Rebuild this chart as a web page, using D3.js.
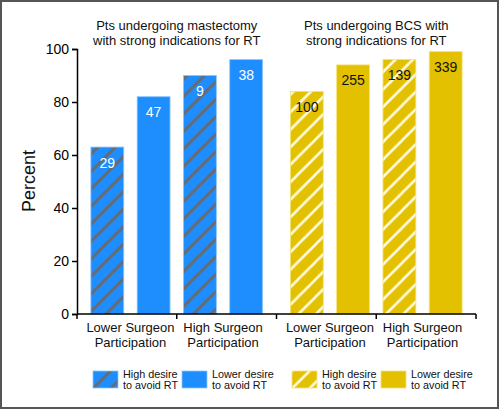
<!DOCTYPE html>
<html>
<head>
<meta charset="utf-8">
<script src="https://cdn.jsdelivr.net/npm/d3@7"></script>
<style>
  html, body { margin: 0; padding: 0; background: #fff; }
  svg { display: block; font-family: "Liberation Sans", Arial, sans-serif; }
</style>
</head>
<body>
<svg id="chart" width="500" height="410"></svg>
<script>
// ---------- data ----------
const panels = ["mastectomy", "BCS"];
const panelTitles = [
  ["Pts undergoing mastectomy", "with strong indications for RT"],
  ["Pts undergoing BCS with", "strong indications for RT"]
];
const categories = ["Lower Surgeon Participation", "High Surgeon Participation"];
const seriesNames = ["High desire to avoid RT", "Lower desire to avoid RT"];
// percent values [Lower Surgeon, High Surgeon]
const mastHighDesire = [63, 90];
const mastLowerDesire = [82, 96];
const bcsHighDesire = [84, 96];
const bcsLowerDesire = [94, 99];
// patient counts shown in bars
const mastHighDesireN = [29, 9];
const mastLowerDesireN = [47, 38];
const bcsHighDesireN = [100, 139];
const bcsLowerDesireN = [255, 339];
const yTicks = [0, 20, 40, 60, 80, 100];

// ---------- build rows ----------
const panelData = [
  { high: mastHighDesire, low: mastLowerDesire, highN: mastHighDesireN, lowN: mastLowerDesireN },
  { high: bcsHighDesire, low: bcsLowerDesire, highN: bcsHighDesireN, lowN: bcsLowerDesireN }
];
const rows = [];
panels.forEach((p, pi) => {
  categories.forEach((c, ci) => {
    rows.push({ panel: p, pi, cat: ci, series: 0, idx: ci * 2, value: panelData[pi].high[ci], n: panelData[pi].highN[ci] });
    rows.push({ panel: p, pi, cat: ci, series: 1, idx: ci * 2 + 1, value: panelData[pi].low[ci], n: panelData[pi].lowN[ci] });
  });
});

const colors = [
  { fill: "#1e8eff", hatch: "#676b70", text: "#ffffff" },
  { fill: "#e3c000", hatch: "#fffbe0", text: "#111111" }
];

// ---------- svg ----------
const svg = d3.select("#chart");
const defs = svg.append("defs");
function makePattern(id, bg, line, sw) {
  const s = 17.5;
  const pat = defs.append("pattern").attr("id", id)
    .attr("patternUnits", "userSpaceOnUse").attr("width", s).attr("height", s);
  pat.append("rect").attr("width", s).attr("height", s).attr("fill", bg);
  pat.append("path")
    .attr("d", `M-4,${s + 4} L${s + 4},-4 M-4,4 L4,-4 M${s - 4},${s + 4} L${s + 4},${s - 4}`)
    .attr("stroke", line).attr("stroke-width", sw);
}
makePattern("hatch0", colors[0].fill, colors[0].hatch, 3);
makePattern("hatch1", colors[1].fill, colors[1].hatch, 2.6);

// border
svg.append("rect").attr("x", 1).attr("y", 1).attr("width", 497).attr("height", 407)
  .attr("fill", "none").attr("stroke", "#555").attr("stroke-width", 2);

const y = d3.scaleLinear().domain([0, 100]).range([314, 49]);
const xPanel = d3.scaleBand().domain(panels).range([77, 476]).padding(0);
const xBar = d3.scaleBand().domain([0, 1, 2, 3]).range([0, xPanel.bandwidth()])
  .paddingInner(0.29).paddingOuter(0.3);
const bw = xBar.bandwidth();
const barX = d => xPanel(d.panel) + xBar(d.idx);

// bars
svg.append("g").selectAll("rect").data(rows).join("rect")
  .attr("x", d => barX(d))
  .attr("y", d => y(d.value))
  .attr("width", bw)
  .attr("height", d => y(0) - y(d.value))
  .attr("fill", d => d.series === 0 ? `url(#hatch${d.pi})` : colors[d.pi].fill)
  .attr("stroke", d => d.pi === 0 ? "#8cc6ff" : "#f3e27a")
  .attr("stroke-width", 0.8);

// value labels
svg.append("g").selectAll("text").data(rows).join("text")
  .attr("x", d => barX(d) + bw / 2)
  .attr("y", d => y(d.value) + 20.5)
  .attr("text-anchor", "middle")
  .attr("font-size", 14)
  .attr("fill", d => colors[d.pi].text)
  .text(d => d.n);

// y axis
const yAxis = svg.append("g").attr("transform", "translate(77,0)")
  .call(d3.axisLeft(y).tickValues(yTicks).tickSize(5).tickPadding(3));
yAxis.select(".domain").attr("stroke", "#000").attr("stroke-width", 1.5);
yAxis.selectAll(".tick line").attr("stroke", "#000").attr("stroke-width", 1.5);
yAxis.selectAll(".tick text").attr("font-size", 14).attr("fill", "#000")
  .attr("font-family", "Liberation Sans, Arial, sans-serif");

// x axis: group boundaries
const groupScale = d3.scaleBand().domain(d3.range(4)).range([77, 476]);
const xBoundaries = d3.range(5).map(i => 77 + i * groupScale.step());
svg.append("line").attr("x1", 77).attr("x2", 476).attr("y1", y(0)).attr("y2", y(0))
  .attr("stroke", "#000").attr("stroke-width", 1.5);
svg.append("g").selectAll("line").data(xBoundaries).join("line")
  .attr("x1", d => d).attr("x2", d => d).attr("y1", y(0)).attr("y2", y(0) + 5)
  .attr("stroke", "#000").attr("stroke-width", 1.5);

// category labels
const catLabels = [];
panels.forEach(p => categories.forEach((c, ci) => {
  const cx = xPanel(p) + (xBar(ci * 2) + xBar(ci * 2 + 1) + bw) / 2;
  catLabels.push({ cx, words: c.split(" ") });
}));
const cl = svg.append("g").selectAll("text").data(catLabels).join("text")
  .attr("x", d => d.cx).attr("y", 332).attr("text-anchor", "middle")
  .attr("font-size", 13).attr("fill", "#111");
cl.append("tspan").attr("x", d => d.cx).attr("dy", 0).text(d => d.words.slice(0, 2).join(" "));
cl.append("tspan").attr("x", d => d.cx).attr("dy", 15).text(d => d.words.slice(2).join(" "));

// panel titles
const pt = svg.append("g").selectAll("text").data(panels).join("text")
  .attr("x", d => xPanel(d) + xPanel.bandwidth() / 2).attr("y", 30)
  .attr("text-anchor", "middle").attr("font-size", 13).attr("fill", "#111");
pt.append("tspan").attr("x", d => xPanel(d) + xPanel.bandwidth() / 2).attr("dy", 0)
  .text((d, i) => panelTitles[i][0]);
pt.append("tspan").attr("x", d => xPanel(d) + xPanel.bandwidth() / 2).attr("dy", 15)
  .text((d, i) => panelTitles[i][1]);

// y label
svg.append("text").attr("transform", "translate(35,181) rotate(-90)")
  .attr("text-anchor", "middle").attr("font-size", 18).attr("fill", "#111")
  .text("Percent");

// legend
const legendItems = [];
panels.forEach((p, pi) => seriesNames.forEach((s, si) => legendItems.push({ pi, si, s })));
const legendX = [93, 182, 292, 381];
const lg = svg.append("g").selectAll("g").data(legendItems).join("g")
  .attr("transform", (d, i) => `translate(${legendX[i]},371)`);
lg.append("rect").attr("width", 25).attr("height", 17)
  .attr("fill", d => d.si === 0 ? `url(#hatch${d.pi})` : colors[d.pi].fill)
  .attr("stroke", d => d.pi === 0 ? "#8cc6ff" : "#f3e27a").attr("stroke-width", 0.8);
const lt = lg.append("text").attr("x", 30).attr("y", 6.5).attr("font-size", 10.8).attr("fill", "#111");
lt.append("tspan").attr("x", 30).attr("dy", 0).text(d => d.s.split(" ").slice(0, 2).join(" "));
lt.append("tspan").attr("x", 30).attr("dy", 11).text(d => d.s.split(" ").slice(2).join(" "));
</script>
</body>
</html>
